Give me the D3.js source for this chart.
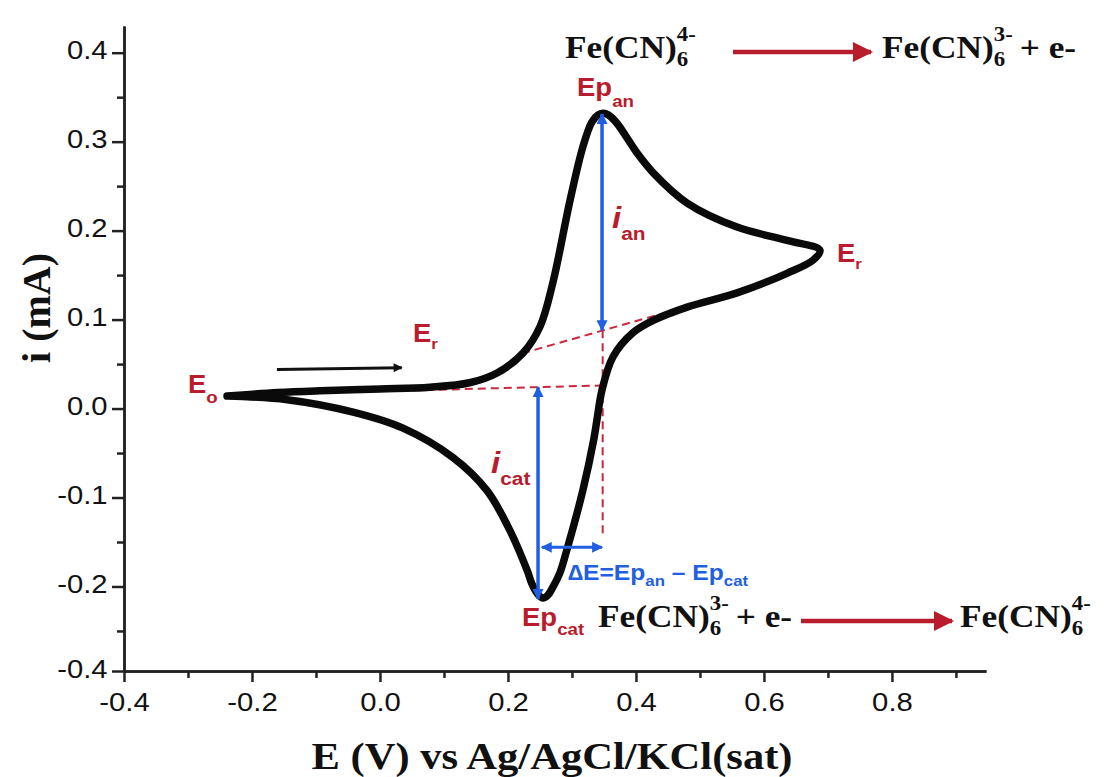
<!DOCTYPE html>
<html>
<head>
<meta charset="utf-8">
<script src="https://cdn.jsdelivr.net/npm/d3@7"></script>
<style>
body { margin: 0; background: #fff; }
text { white-space: pre; }
</style>
</head>
<body>
<svg id="chart" width="1106" height="777"></svg>
<script>
// cyclic voltammogram: [E (V), i (mA)]
var forwardScan = [
	[-0.239, 0.014], [-0.16, 0.018], [-0.094, 0.020], [0.0, 0.022], [0.078, 0.024],
	[0.14, 0.029], [0.183, 0.040], [0.223, 0.062], [0.25, 0.092], [0.27, 0.141],
	[0.297, 0.234], [0.317, 0.294], [0.331, 0.322], [0.341, 0.330], [0.349, 0.332],
	[0.357, 0.330], [0.37, 0.321], [0.402, 0.287], [0.427, 0.265], [0.48, 0.231],
	[0.558, 0.204], [0.636, 0.189], [0.6875, 0.178]
];
var reverseScan = [
	[0.6875, 0.178], [0.677, 0.167], [0.636, 0.152], [0.558, 0.130], [0.48, 0.114],
	[0.427, 0.099], [0.395, 0.085], [0.364, 0.058], [0.347, 0.021], [0.339, -0.013],
	[0.334, -0.035], [0.317, -0.092], [0.292, -0.159], [0.281, -0.185], [0.27, -0.201],
	[0.262, -0.210], [0.255, -0.213], [0.247, -0.209], [0.238, -0.198], [0.23, -0.182],
	[0.203, -0.137], [0.167, -0.092], [0.114, -0.055], [0.036, -0.022], [-0.042, -0.004],
	[-0.145, 0.010], [-0.239, 0.014]
];

var xTickValues = [-0.4, -0.2, 0, 0.2, 0.4, 0.6, 0.8];
var xTickLabels = ["-0.4", "-0.2", "0.0", "0.2", "0.4", "0.6", "0.8"];
var xMinorTicks = [-0.3, -0.1, 0.1, 0.3, 0.5, 0.7, 0.9];
var yTickValues = [-0.295, -0.2, -0.1, 0, 0.1, 0.2, 0.3, 0.4];
var yTickLabels = ["-0.4", "-0.2", "-0.1", "0.0", "0.1", "0.2", "0.3", "0.4"];
var yMinorTicks = [-0.25, -0.15, -0.05, 0.05, 0.15, 0.25, 0.35];

// construction lines, in data units
var baselineCat = [[0.031, 0.020], [0.348, 0.026]];
var baselineAn = [[0.222, 0.062], [0.555, 0.130]];
var dropLine = [[0.348, 0.088], [0.348, -0.144]];
var arrowIan = [[0.347, 0.088], [0.347, 0.331]];
var arrowIcat = [[0.247, 0.024], [0.247, -0.214]];
var arrowDeltaE = [[0.253, -0.156], [0.347, -0.156]];
var arrowScan = [[-0.161, 0.044], [0.034, 0.046]];

var RED = "#b91c2c";
var BLUE = "#1f5fe0";
var SANS = "'Liberation Sans', Arial, sans-serif";
var SERIF = "'Liberation Serif', 'Times New Roman', serif";

var svg = d3.select("#chart");

var x = d3.scaleLinear().domain([-0.4, 0.947]).range([124, 986]);
var y = d3.scaleLinear().domain([-0.295, 0.43]).range([671, 26]);

// markers
var defs = svg.append("defs");
function marker(id, color, len, wid) {
	defs.append("marker").attr("id", id)//
	.attr("viewBox", "0 0 10 10").attr("refX", 9).attr("refY", 5)//
	.attr("markerUnits", "userSpaceOnUse")//
	.attr("markerWidth", len).attr("markerHeight", wid)//
	.attr("orient", "auto-start-reverse")//
	.append("path").attr("d", "M0,0L10,5L0,10z").style("fill", color);
}
marker("headBlue", BLUE, 13, 11);
marker("headRed", RED, 24, 20);
marker("headBlack", "#111", 12, 9);

// axes
function styleAxis(g, sx) {
	g.select(".domain").style("stroke", "#222").style("stroke-width", 2.5);
	g.selectAll(".tick line").style("stroke", "#222").style("stroke-width", 2.5);
	g.selectAll("text").style("font-family", SANS).style("font-size", "25px").style("fill", "#111")//
	.attr("transform", "scale(" + sx + ",1)");
}

var yAxis = svg.append("g").attr("transform", "translate(124,0)")//
.call(d3.axisLeft(y).tickValues(yTickValues).tickFormat(function(d, i) {
	return yTickLabels[i];
}).tickSize(12).tickSizeOuter(0).tickPadding(2));
yAxis.selectAll("text").attr("dy", "0.24em");
styleAxis(yAxis, 1.17);

var yMinor = svg.append("g").attr("transform", "translate(124,0)")//
.call(d3.axisLeft(y).tickValues(yMinorTicks).tickFormat("").tickSize(7).tickSizeOuter(0));
styleAxis(yMinor, 1);

var xAxis = svg.append("g").attr("transform", "translate(0,671)")//
.call(d3.axisBottom(x).tickValues(xTickValues).tickFormat(function(d, i) {
	return xTickLabels[i];
}).tickSize(11).tickSizeOuter(0).tickPadding(11));
styleAxis(xAxis, 1.17);

var xMinor = svg.append("g").attr("transform", "translate(0,671)")//
.call(d3.axisBottom(x).tickValues(xMinorTicks).tickFormat("").tickSize(7).tickSizeOuter(0));
styleAxis(xMinor, 1);

// axis titles
svg.append("text").attr("transform", "translate(552,769) scale(1.12,1)")//
.attr("text-anchor", "middle")//
.style("font-family", SERIF).style("font-weight", "bold").style("font-size", "38px").style("fill", "#111")//
.text("E (V) vs Ag/AgCl/KCl(sat)");

svg.append("text").attr("transform", "translate(50,308) rotate(-90)")//
.attr("text-anchor", "middle")//
.style("font-family", SERIF).style("font-weight", "bold").style("font-size", "40px").style("fill", "#111")//
.text("i (mA)");

// construction lines
var line = d3.line().x(function(d) {
	return x(d[0]);
}).y(function(d) {
	return y(d[1]);
});

[ baselineCat, baselineAn, dropLine ].forEach(function(seg) {
	svg.append("path").attr("d", line(seg))//
	.style("fill", "none").style("stroke", "#c9283e").style("stroke-width", 2)//
	.style("stroke-dasharray", "8,5");
});

// the voltammogram
var curve = d3.line().curve(d3.curveCatmullRom.alpha(0.5)).x(function(d) {
	return x(d[0]);
}).y(function(d) {
	return y(d[1]);
});
svg.append("path").attr("d", curve(forwardScan.concat(reverseScan.slice(1))))//
.style("fill", "none").style("stroke", "#0a0a0a").style("stroke-width", 7.5)//
.style("stroke-linejoin", "round").style("stroke-linecap", "round");

// arrows
function arrow(seg, color, width, headId, both) {
	var p = svg.append("path").attr("d", line(seg))//
	.style("fill", "none").style("stroke", color).style("stroke-width", width)//
	.attr("marker-end", "url(#" + headId + ")");
	if (both) {
		p.attr("marker-start", "url(#" + headId + ")");
	}
}
arrow(arrowIan, BLUE, 3.5, "headBlue", true);
arrow(arrowIcat, BLUE, 3.5, "headBlue", true);
arrow(arrowDeltaE, BLUE, 3, "headBlue", true);
arrow(arrowScan, "#111", 3, "headBlack", false);

// rich text helper: parts = [{t, size, shift, dx, italic}]
function richText(px, py, parts, opts) {
	var t = svg.append("text")//
	.attr("transform", "translate(" + px + "," + py + ") scale(" + (opts.sx || 1) + ",1)")//
	.style("font-family", opts.family).style("font-weight", "bold")//
	.style("font-size", opts.size + "px").style("fill", opts.color);
	var prev = 0;
	parts.forEach(function(p) {
		var shift = p.shift || 0;
		var s = t.append("tspan").text(p.t).attr("dy", shift - prev);
		prev = shift;
		if (p.size) {
			s.style("font-size", p.size + "px");
		}
		if (p.dx) {
			s.attr("dx", p.dx);
		}
		if (p.italic) {
			s.style("font-style", "italic");
		}
	});
	return t;
}

var redLabel = { family: SANS, size: 25, color: RED, sx: 1.1 };
richText(577, 96, [ { t: "Ep" }, { t: "an", size: 17, shift: 11 } ], redLabel);
richText(522, 626, [ { t: "Ep" }, { t: "cat", size: 17, shift: 9 } ], redLabel);
richText(188, 393, [ { t: "E" }, { t: "o", size: 17, shift: 10 } ], redLabel);
richText(413, 342, [ { t: "E" }, { t: "r", size: 15, shift: 7 } ], redLabel);
richText(837, 262, [ { t: "E" }, { t: "r", size: 15, shift: 7 } ], redLabel);
richText(612, 228, [ { t: "i", italic: true, size: 30 }, { t: "an", size: 19, shift: 12 } ], redLabel);
richText(491, 473, [ { t: "i", italic: true, size: 30 }, { t: "cat", size: 19, shift: 12 } ], redLabel);

richText(568, 580, [ { t: "\u2206E=Ep" }, { t: "an", size: 15, shift: 6 }, { t: " \u2013 Ep", shift: 0 },
		{ t: "cat", size: 15, shift: 6 } ], { family: SANS, size: 22, color: BLUE, sx: 1.12 });

// reactions
var chem = { family: SERIF, size: 31, color: "#111", sx: 1.14 };
richText(565, 58, [ { t: "Fe(CN)" }, { t: "6", size: 20, shift: 8 }, { t: "4-", size: 20, shift: -17, dx: -10 } ], chem);
richText(882, 58, [ { t: "Fe(CN)" }, { t: "6", size: 20, shift: 8 }, { t: "3-", size: 20, shift: -17, dx: -10 },
		{ t: "+ e-", shift: 0, dx: 6 } ], chem);
richText(598, 627, [ { t: "Fe(CN)" }, { t: "6", size: 20, shift: 8 }, { t: "3-", size: 20, shift: -17, dx: -10 },
		{ t: "+ e-", shift: 0, dx: 6 } ], chem);
richText(960, 627, [ { t: "Fe(CN)" }, { t: "6", size: 20, shift: 8 }, { t: "4-", size: 20, shift: -17, dx: -10 } ], chem);

// reaction arrows (page coordinates)
[ [ [ 733, 52 ], [ 871, 52 ] ], [ [ 801, 621 ], [ 952, 621 ] ] ].forEach(function(seg) {
	svg.append("path").attr("d", d3.line()(seg))//
	.style("stroke", RED).style("stroke-width", 4.5).style("fill", "none")//
	.attr("marker-end", "url(#headRed)");
});
</script>
</body>
</html>
